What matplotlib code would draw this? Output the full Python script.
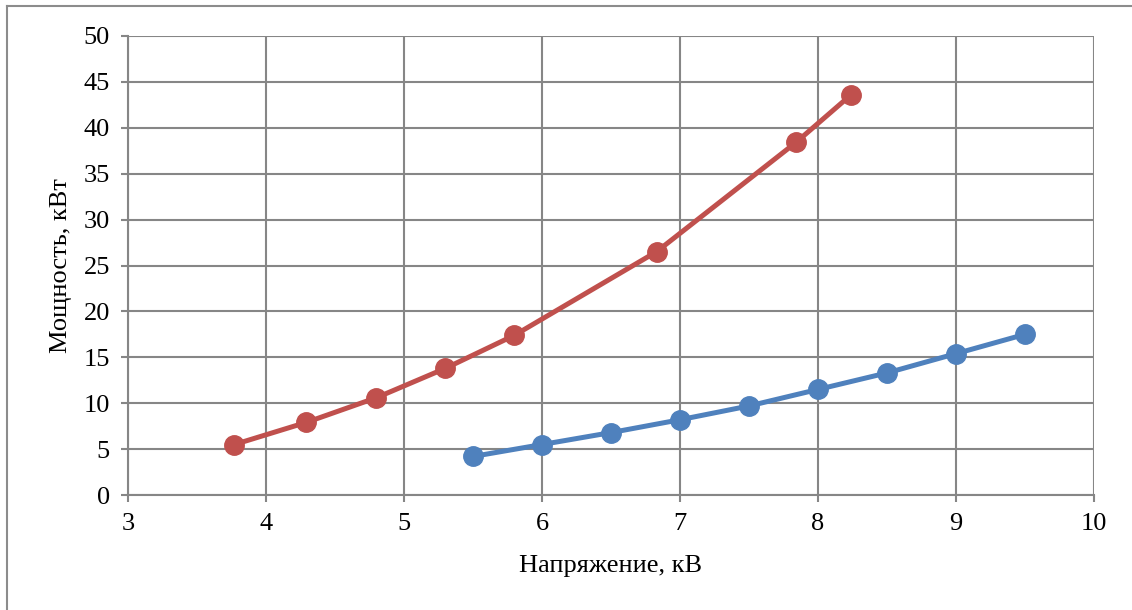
import matplotlib.pyplot as plt
from matplotlib.lines import Line2D

plt.rcParams['font.family'] = ['Liberation Serif', 'DejaVu Serif']

# data
u_red = [3.77, 4.29, 4.80, 5.30, 5.80, 6.83, 7.84, 8.24]
p_red = [5.5, 7.9, 10.6, 13.8, 17.4, 26.5, 38.4, 43.6]

u_blue = [5.5, 6.0, 6.5, 7.0, 7.5, 8.0, 8.5, 9.0, 9.5]
p_blue = [4.2, 5.5, 6.8, 8.2, 9.7, 11.5, 13.3, 15.4, 17.5]

xlabel = 'Напряжение, кВ'
ylabel = 'Мощность, кВт'

grid_c = '#868686'

fig = plt.figure(figsize=(11.32, 6.10), dpi=100)
ax = fig.add_axes([0.1131, 0.1885, 0.8533, 0.7525])

ax.plot(u_red, p_red, color='#C0504D', linewidth=3.6, marker='o',
        markersize=14, zorder=3)
ax.plot(u_blue, p_blue, color='#4F81BD', linewidth=3.6, marker='o',
        markersize=14, zorder=3)

ax.set_xlim(3, 10)
ax.set_ylim(0, 50)
ax.set_xticks(range(3, 11))
ax.set_yticks(range(0, 51, 5))

ax.grid(True, color=grid_c, linewidth=1.5)
ax.set_axisbelow(True)
for s in ['top', 'right']:
    ax.spines[s].set_visible(False)
for s in ['left', 'bottom']:
    ax.spines[s].set_color(grid_c)
    ax.spines[s].set_linewidth(1.5)

ax.tick_params(axis='both', colors=grid_c, labelcolor='black', labelsize=19,
               length=5, width=1.5)
ax.tick_params(axis='x', pad=8)
ax.tick_params(axis='y', pad=8)

ax.set_xlabel(xlabel, fontsize=19, labelpad=14)
ax.set_ylabel(ylabel, fontsize=19, labelpad=8)

# outer chart frame (top and left edges visible)
fig.add_artist(Line2D([0.0065, 1.0], [0.9905, 0.9905], transform=fig.transFigure,
                      color='#8c8c8c', linewidth=1.5))
fig.add_artist(Line2D([0.0065, 0.0065], [0.0, 0.9905], transform=fig.transFigure,
                      color='#8c8c8c', linewidth=1.5))

fig.savefig('out.png', dpi=100)
